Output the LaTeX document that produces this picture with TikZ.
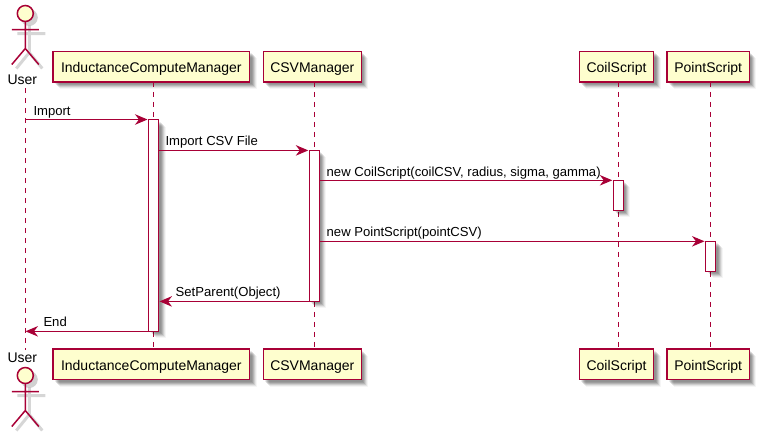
\documentclass[tikz,border=0pt]{standalone}
\usepackage{fontspec}
\setmainfont{Liberation Sans}
\usetikzlibrary{shadows,arrows.meta}
\definecolor{umlline}{HTML}{A80036}
\definecolor{umlfill}{HTML}{FEFECE}
\tikzset{
  softshadow/.style={
    drop shadow={shadow xshift=7pt,shadow yshift=-7pt,fill=black,opacity=.04},
    drop shadow={shadow xshift=6pt,shadow yshift=-6pt,fill=black,opacity=.07},
    drop shadow={shadow xshift=5pt,shadow yshift=-5pt,fill=black,opacity=.10},
    drop shadow={shadow xshift=4pt,shadow yshift=-4pt,fill=black,opacity=.12},
    drop shadow={shadow xshift=3pt,shadow yshift=-3pt,fill=black,opacity=.12},
    drop shadow={shadow xshift=2pt,shadow yshift=-2pt,fill=black,opacity=.08}},
  participant/.style={draw=umlline,line width=1.5pt,fill=umlfill,minimum height=30.7pt,outer sep=0pt,
    inner sep=0pt,font=\fontsize{14}{16}\selectfont,text=black,text height=12pt,text depth=0pt,softshadow},
  activation/.style={draw=umlline,line width=1pt,fill=white,inner sep=0pt,outer sep=0pt,minimum width=10pt,softshadow},
  lifeline/.style={draw=umlline,line width=1pt,dash pattern=on 5pt off 5pt},
  message/.style={draw=umlline,line width=1pt,shorten >=1pt,-{Stealth[length=12.5pt,width=10.5pt,inset=4pt]}},
  msglabel/.style={font=\fontsize{13.1}{15}\selectfont,text=black,inner sep=0pt,anchor=base west},
  actorname/.style={font=\fontsize{14}{16}\selectfont,text=black,inner sep=0pt,anchor=base},
  actorpart/.style={draw=umlline,line width=1.5pt},
}
\newcommand{\actorfig}[2]{%
  \begin{scope}[shift={(#1,#2)}]
    \fill[black,opacity=.18] (4,4) circle (8.5);
    \draw[black,opacity=.16,line width=3pt] (4,12)--(4,39) (-8,20)--(20,20) (4,39)--(-9,55) (4,39)--(17,55);
    \draw[actorpart,fill=umlfill] (0,0) circle (8);
    \draw[actorpart] (0,8)--(0,35) (-13.5,16)--(13.5,16) (0,35)--(-13.5,51) (0,35)--(13.5,51);
  \end{scope}}
\begin{document}
\begin{tikzpicture}[x=1pt,y=-1pt]
\useasboundingbox (0,0) rectangle (759,437);
% x positions of the lifelines
\coordinate (lu) at (25.5,0);
\coordinate (l1) at (153.5,0);
\coordinate (l2) at (314.3,0);
\coordinate (l3) at (618.3,0);
\coordinate (l4) at (710.5,0);
% participants
\node[participant,minimum width=196.7pt] (icmT) at (151.3,66.6) {InductanceComputeManager};
\node[participant,minimum width=196.7pt] (icmB) at (151.3,364.3) {InductanceComputeManager};
\node[participant,minimum width=98pt] (csvT) at (312.3,66.6) {CSVManager};
\node[participant,minimum width=98pt] (csvB) at (312.3,364.3) {CSVManager};
\node[participant,minimum width=74.4pt] (coilT) at (616.5,66.6) {CoilScript};
\node[participant,minimum width=74.4pt] (coilB) at (616.5,364.3) {CoilScript};
\node[participant,minimum width=82.3pt] (ptT) at (708.2,66.6) {PointScript};
\node[participant,minimum width=82.3pt] (ptB) at (708.2,364.3) {PointScript};
% actors
\node[actorname] (userT) at (22.3,84.7) {User};
\node[actorname] (userB) at (22.3,362.3) {User};
\actorfig{25.3}{13.5}
\actorfig{25.3}{375.5}
% lifelines
\coordinate (ul1) at (25.5,88);
\coordinate (ul2) at (25.5,350);
\draw[lifeline] (ul1)--(ul2);
\draw[lifeline] (icmT.south-|l1)--(icmB.north-|l1);
\draw[lifeline] (csvT.south-|l2)--(csvB.north-|l2);
\draw[lifeline] (coilT.south-|l3)--(coilB.north-|l3);
\draw[lifeline] (ptT.south-|l4)--(ptB.north-|l4);
% activations
\node[activation,minimum height=211.8pt] (a1) at (153.5,225.4) {};
\node[activation,minimum height=151pt] (a2) at (314.3,225.9) {};
\node[activation,minimum height=30pt] (a3) at (618.3,195.3) {};
\node[activation,minimum height=30pt] (a4) at (710.5,256.3) {};
% messages
\draw[message] (lu|-a1.north)--(a1.north west);
\draw[message] (a1.east|-a2.north)--(a2.north west);
\draw[message] (a2.east|-a3.north)--(a3.north west);
\draw[message] (a2.east|-a4.north)--(a4.north west);
\draw[message] (a2.south west)--(a1.east|-a2.south);
\draw[message,shorten >=0pt] (a1.south west)--(lu|-a1.south);
% labels
\node[msglabel] (t1) at (33.3,115) {Import};
\node[msglabel] (t2) at (165.3,145.7) {Import CSV File};
\node[msglabel] (t3) at (326.5,176) {new CoilScript(coilCSV, radius, sigma, gamma)};
\node[msglabel] (t4) at (326.5,236.5) {new PointScript(pointCSV)};
\node[msglabel] (t5) at (175.5,296.5) {SetParent(Object)};
\node[msglabel] (t6) at (43.3,326.7) {End};
\end{tikzpicture}
\end{document}
